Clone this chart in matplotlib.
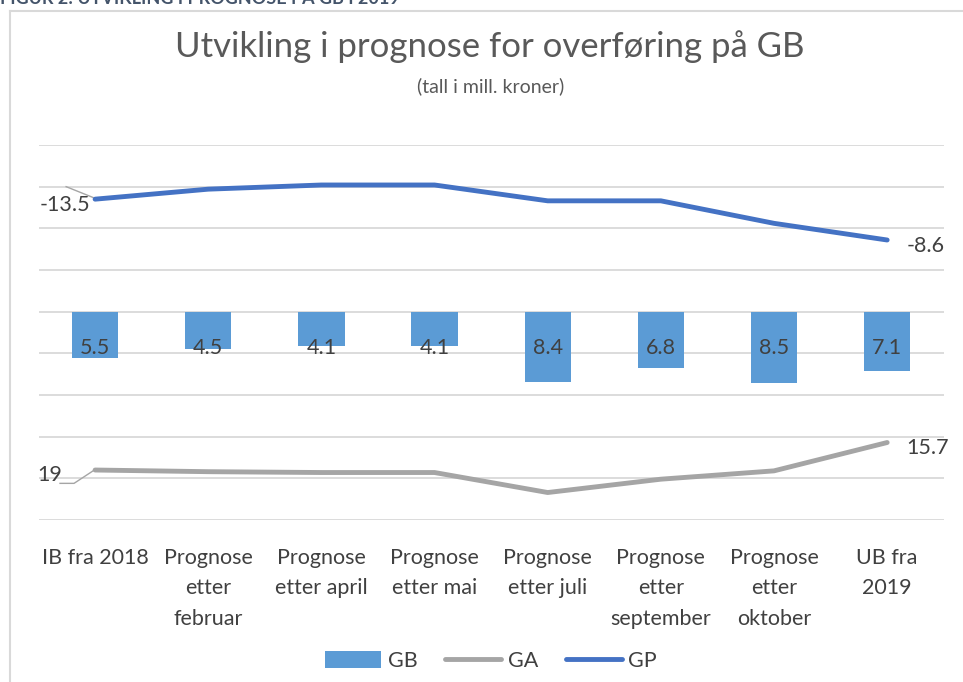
import matplotlib.pyplot as plt
import numpy as np

plt.rcParams['font.family'] = ['Lato', 'DejaVu Sans']

# data (mill. kroner)
categories = ['IB fra 2018', 'Prognose\netter\nfebruar', 'Prognose\netter april',
              'Prognose\netter mai', 'Prognose\netter juli', 'Prognose\netter\nseptember',
              'Prognose\netter\noktober', 'UB fra\n2019']
gb = [5.5, 4.5, 4.1, 4.1, 8.4, 6.8, 8.5, 7.1]
ga = [19.0, 19.2, 19.3, 19.3, 21.7, 20.1, 19.1, 15.7]
gp = [-13.5, -14.7, -15.2, -15.2, -13.3, -13.3, -10.6, -8.6]

c_gb = '#5B9BD5'
c_ga = '#A5A5A5'
c_gp = '#4472C4'
txt = '#404040'
fs = 15.5

fig = plt.figure(figsize=(9.63, 6.82), dpi=100)
ax = fig.add_axes([0.040, 0.2375, 0.940, 0.5499])

x = np.arange(len(categories))
bars = ax.bar(x, gb, width=0.41, color=c_gb, zorder=2, label='GB')
l_ga, = ax.plot(x, ga, color=c_ga, lw=3.5, solid_capstyle='round', zorder=3, label='GA')
l_gp, = ax.plot(x, gp, color=c_gp, lw=3.5, solid_capstyle='round', zorder=3, label='GP')

ax.set_xlim(-0.5, len(categories) - 0.5)
ax.set_ylim(25, -20)
ax.set_yticks(np.arange(-20, 26, 5))
ax.yaxis.grid(True, color='#D9D9D9', lw=1.3)
ax.set_axisbelow(True)
ax.tick_params(axis='y', length=0, labelleft=False)
ax.set_xticks(x)
ax.set_xticklabels(categories, fontsize=fs, color=txt, linespacing=1.65, va='top')
ax.tick_params(axis='x', length=0, pad=20)
for s in ax.spines.values():
    s.set_visible(False)

# bar labels
for xi, v in zip(x, gb):
    ax.text(xi, 4.3, f'{v:.1f}', ha='center', va='center', fontsize=fs, color=txt, zorder=4)

# end labels with leader lines
ax.text(-0.27, gp[0] + 0.7, f'{gp[0]:.1f}', ha='center', va='center', fontsize=fs, color=txt)
ax.plot([-0.256, -0.018], [gp[0] - 1.5, gp[0] - 0.2], color=c_ga, lw=1)
ax.text(len(x) - 1 + 0.17, gp[-1] + 0.7, f'{gp[-1]:.1f}', ha='left', va='center', fontsize=fs, color=txt)

ax.text(-0.40, ga[0] + 0.6, f'{ga[0]:.0f}', ha='center', va='center', fontsize=fs, color=txt)
ax.plot([-0.31, -0.186, -0.018], [ga[0] + 1.6, ga[0] + 1.6, ga[0] + 0.1], color=c_ga, lw=1)
ax.text(len(x) - 1 + 0.17, ga[-1] + 0.7, f'{ga[-1]:.1f}', ha='left', va='center', fontsize=fs, color=txt)

# titles
fig.text(0.509, 1 - 47 / 682, 'Utvikling i prognose for overføring på GB', ha='center', va='center',
         fontsize=25, color='#595959')
fig.text(0.509, 1 - 86 / 682, '(tall i mill. kroner)', ha='center', va='center',
         fontsize=14, color='#595959')
fig.text(0.0, 1 - 4 / 682, 'FIGUR 2: UTVIKLING I PROGNOSE PÅ GB I 2019', ha='left', va='baseline',
         fontsize=13, fontweight='bold', color='#44546A')

# chart border (top and left visible)
fig.add_artist(plt.Line2D([10 / 963, 1], [1 - 11 / 682, 1 - 11 / 682], color='#D9D9D9', lw=1.5))
fig.add_artist(plt.Line2D([10 / 963, 10 / 963], [0, 1 - 11 / 682], color='#D9D9D9', lw=1.5))

fig.legend([bars, l_ga, l_gp], ['GB', 'GA', 'GP'], loc='center', bbox_to_anchor=(0.51, 1 - 661 / 682),
           ncol=3, frameon=False, fontsize=fs, handlelength=2.6, handleheight=0.8,
           columnspacing=1.3, handletextpad=0.3, labelcolor=txt)

fig.savefig('out.png', dpi=100)
